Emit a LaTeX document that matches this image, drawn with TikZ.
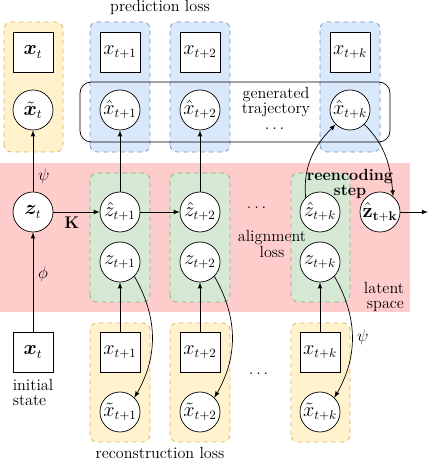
\documentclass[tikz,border=0pt]{standalone}
\usepackage{amsmath}
\usepackage{amssymb,bm}
\usepackage{xcolor}
\usepackage{tikz}
\usetikzlibrary{arrows}
\usetikzlibrary{shapes}
\usetikzlibrary{positioning}

\definecolor{recfill}{HTML}{FFF2CC}
\definecolor{recdraw}{HTML}{D6B656}
\definecolor{predfill}{HTML}{DAE8FC}
\definecolor{preddraw}{HTML}{6C8EBF}
\definecolor{alignfill}{HTML}{D5E8D4}
\definecolor{aligndraw}{HTML}{82B366}
\definecolor{latentfill}{HTML}{FFCCCC}

\begin{document}
\begin{tikzpicture}[
    font = \fontsize{11.5}{13}\selectfont,
    line width = 0.5pt,
    obs/.style = {draw, fill=white, minimum size=1cm, inner sep=0pt, font=\fontsize{13.5}{15}\selectfont},
    lat/.style = {draw, circle, fill=white, minimum size=1cm, inner sep=0pt, font=\fontsize{13.5}{15}\selectfont},
    recbox/.style = {fill=recfill, draw=recdraw, dashed, rounded corners=5pt},
    predbox/.style = {fill=predfill, draw=preddraw, dashed, rounded corners=5pt},
    alignbox/.style = {fill=alignfill, draw=aligndraw, dashed, rounded corners=5pt},
    arr/.style = {-latex}
]
    \useasboundingbox (0, 0) rectangle (10.75, 11.55);

    % backgrounds
    \fill[latentfill] (0, 3.75) rectangle (10.25, 7.475);
    \filldraw[recbox] (0.1, 7.75) rectangle (1.575, 11.0);
    \filldraw[predbox] (2.25, 7.75) rectangle (3.75, 11.0);
    \filldraw[predbox] (4.25, 7.75) rectangle (5.75, 11.0);
    \filldraw[predbox] (8.0, 7.75) rectangle (9.5, 11.0);
    \filldraw[alignbox] (2.25, 4.0) rectangle (3.75, 7.225);
    \filldraw[alignbox] (4.25, 4.0) rectangle (5.75, 7.225);
    \filldraw[alignbox] (7.275, 4.0) rectangle (8.75, 7.225);
    \filldraw[recbox] (2.25, 0.5) rectangle (3.75, 3.475);
    \filldraw[recbox] (4.25, 0.5) rectangle (5.75, 3.475);
    \filldraw[recbox] (7.275, 0.5) rectangle (8.75, 3.475);
    \draw[rounded corners=8pt] (2.0, 8.0) rectangle (9.75, 9.5);

    % top row
    \node[obs] (xo0) at (0.825, 10.25) {$\bm{x}_t$};
    \node[obs] (xo1) at (3.0, 10.25) {$x_{t+1}$};
    \node[obs] (xo2) at (5.0, 10.25) {$x_{t+2}$};
    \node[obs] (xok) at (8.75, 10.25) {$x_{t+k}$};
    \node[lat] (xt0) at (0.825, 8.8) {$\tilde{\bm{x}}_t$};
    \node[lat] (xh1) at (3.0, 8.8) {$\hat{x}_{t+1}$};
    \node[lat] (xh2) at (5.0, 8.8) {$\hat{x}_{t+2}$};
    \node[lat] (xhk) at (8.75, 8.8) {$\hat{x}_{t+k}$};

    % latent row
    \node[lat] (z0) at (0.825, 6.25) {$\bm{z}_t$};
    \node[lat] (zh1) at (3.0, 6.25) {$\hat{z}_{t+1}$};
    \node[lat] (zh2) at (5.0, 6.25) {$\hat{z}_{t+2}$};
    \node[lat] (zhk) at (8.0, 6.25) {$\hat{z}_{t+k}$};
    \node[lat] (zre) at (9.5, 6.25) {$\hat{\mathbf{z}}_{\mathbf{t+k}}$};
    \node[lat] (z1) at (3.0, 5.0) {$z_{t+1}$};
    \node[lat] (z2) at (5.0, 5.0) {$z_{t+2}$};
    \node[lat] (zk) at (8.0, 5.0) {$z_{t+k}$};

    % bottom row
    \node[obs] (xi0) at (0.825, 2.75) {$\bm{x}_t$};
    \node[obs] (xi1) at (3.0, 2.75) {$x_{t+1}$};
    \node[obs] (xi2) at (5.0, 2.75) {$x_{t+2}$};
    \node[obs] (xik) at (8.0, 2.75) {$x_{t+k}$};
    \node[lat] (xr1) at (3.0, 1.25) {$\tilde{x}_{t+1}$};
    \node[lat] (xr2) at (5.0, 1.25) {$\tilde{x}_{t+2}$};
    \node[lat] (xrk) at (8.0, 1.25) {$\tilde{x}_{t+k}$};

    % texts
    \node (pred) at (4.0, 11.36) {prediction loss};
    \node (recon) at (4.0, 0.22) {reconstruction loss};
    \node[align=center] (gen) at (6.9, 8.85) {generated\\[-2pt]trajectory\\[-2pt]$\dots$};
    \node[align=center, font=\fontsize{11.5}{13}\bfseries] (reenc) at (8.75, 6.95) {reencoding\\[-2pt]step};
    \node[align=center] (alloss) at (6.8, 5.45) {alignment\\[-2pt]loss};
    \node[align=right] (lspace) at (9.6, 4.13) {latent\\[-2pt]space};
    \node[align=left, below=1pt of xi0] (init) {initial\\[-2pt]state};
    \node (dotsz) at (6.45, 6.35) {$\dots$};
    \node (dotsx) at (6.5, 2.2) {$\dots$};

    % connectors
    \draw[arr] (xi0) -- node[right, pos=0.58] {$\phi$} (z0);
    \draw[arr] (z0) -- node[right, pos=0.25] {$\psi$} (xt0);
    \draw[arr] (z0) -- node[below, pos=0.4] {$\mathbf{K}$} (zh1);
    \draw[arr] (zh1) -- (zh2);
    \draw[arr] (zh1) -- (xh1);
    \draw[arr] (zh2) -- (xh2);
    \draw[arr] (xi1) -- (z1);
    \draw[arr] (xi2) -- (z2);
    \draw[arr] (xik) -- (zk);
    \draw[arr] (z1.south east) to[out=-60, in=60] (xr1.north east);
    \draw[arr] (z2.south east) to[out=-60, in=60] (xr2.north east);
    \draw[arr] (zk.south east) to[out=-60, in=60] node[right, pos=0.5] {$\psi$} (xrk.north east);
    \draw[arr] (zhk.north west) to[out=95, in=-135] (xhk.south west);
    \draw[arr] (xhk.south east) to[out=-45, in=95] (zre.50);
    \draw[arr] (zre) -- (10.7, 6.25);
\end{tikzpicture}
\end{document}
